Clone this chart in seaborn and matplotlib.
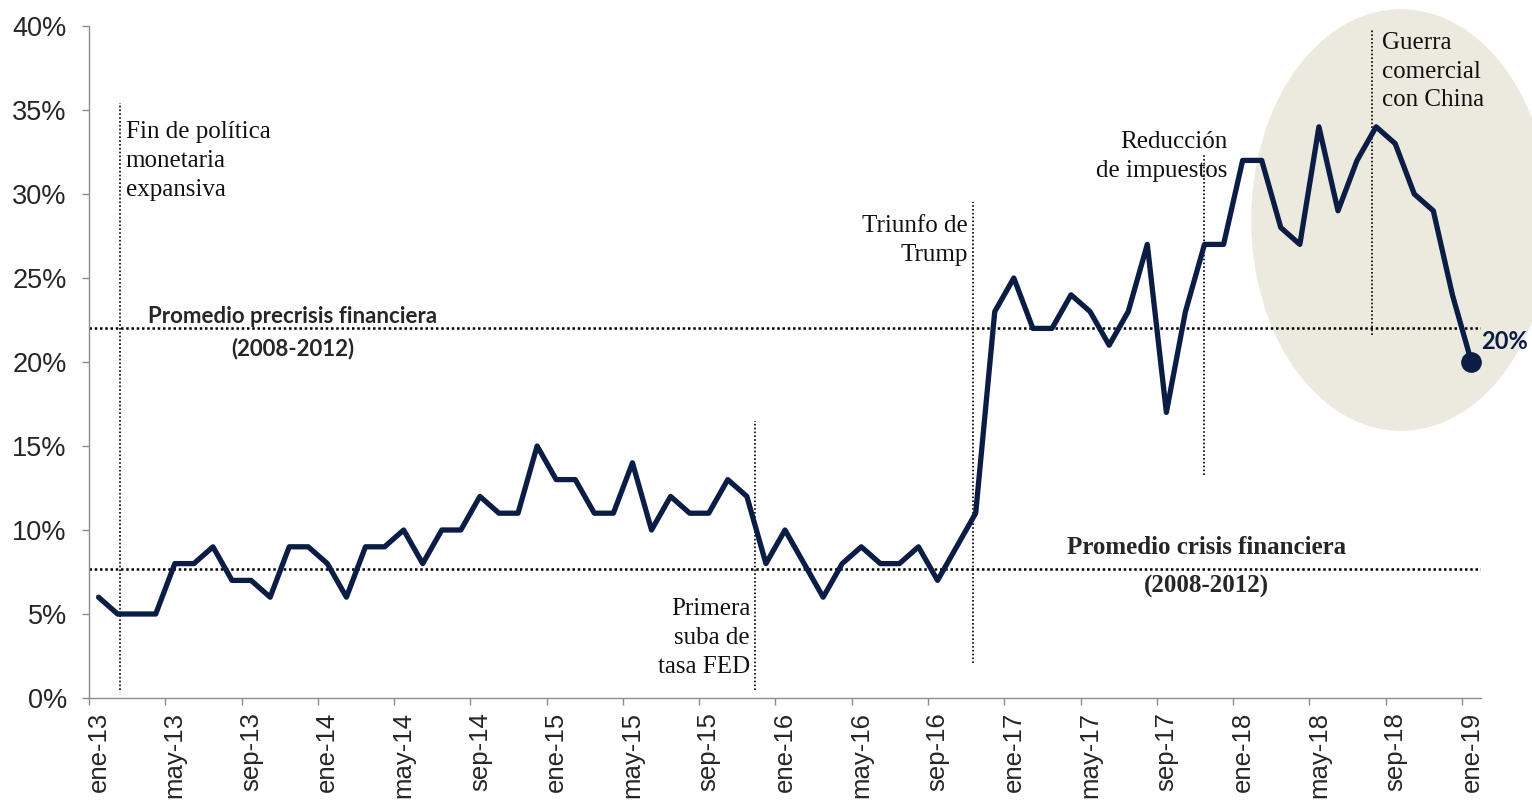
import matplotlib
matplotlib.use("Agg")
import matplotlib.pyplot as plt
from matplotlib.patches import Ellipse
import seaborn as sns
import pandas as pd

# Monthly series, ene-13 .. ene-19
abreviaturas = ["ene", "feb", "mar", "abr", "may", "jun",
                "jul", "ago", "sep", "oct", "nov", "dic"]
meses = [f"{abreviaturas[i % 12]}-{13 + i // 12}" for i in range(73)]
valores = [6, 5, 5, 5, 8, 8, 9, 7, 7, 6,
           9, 9, 8, 6, 9, 9, 10, 8, 10, 10,
           12, 11, 11, 15, 13, 13, 11, 11, 14, 10,
           12, 11, 11, 13, 12, 8, 10, 8, 6, 8,
           9, 8, 8, 9, 7, 9, 11, 23, 25, 22,
           22, 24, 23, 21, 23, 27, 17, 23, 27, 27,
           32, 32, 28, 27, 34, 29, 32, 34, 33, 30,
           29, 24, 20]
etiquetas_x = meses[::4]
valores_y = [0, 5, 10, 15, 20, 25, 30, 35, 40]

# Reference averages
promedio_precrisis = 22.0
promedio_crisis = 7.7

# Events: text, month position, vertical extent of the marker line
eventos_texto = ["Fin de política\nmonetaria\nexpansiva",
                 "Primera\nsuba de\ntasa FED",
                 "Triunfo de\nTrump",
                 "Reducción\nde impuestos",
                 "Guerra\ncomercial\ncon China"]
eventos_pos = [1.1, 34.45, 45.85, 57.97, 66.8]
eventos_desde = [0.5, 0.5, 2.1, 13.3, 21.6]
eventos_hasta = [35.4, 16.5, 29.5, 32.3, 39.8]

NAVY = "#0b1d45"
BEIGE = "#ece9df"
GRIS = "#8c8c8c"

sns.set_style("white")
plt.rcParams["font.family"] = ["Liberation Sans", "DejaVu Sans"]

fig = plt.figure(figsize=(15.32, 8), dpi=100)
ax = fig.add_axes([89 / 1532, 1 - 698 / 800, (1481 - 89) / 1532, (698 - 26) / 800])

df = pd.DataFrame({"pos": range(len(valores)), "valor": valores, "mes": meses})

# Highlight area behind the last months
ax.add_patch(Ellipse((68.3, 28.45), 15.7, 25.1, facecolor=BEIGE,
                     edgecolor="none", zorder=0, clip_on=False))

# Average lines
for nivel in (promedio_precrisis, promedio_crisis):
    ax.axhline(nivel, color="black", lw=1.8, ls=(0, (1, 1.1)), zorder=2)

# Event marker lines
for xp, y0, y1 in zip(eventos_pos, eventos_desde, eventos_hasta):
    ax.plot([xp, xp], [y0, y1], color="black", lw=1.2, ls=(0, (1, 1.3)),
            zorder=2, clip_on=False)

sns.lineplot(data=df, x="pos", y="valor", color=NAVY, lw=3.8, ax=ax,
             zorder=5)
sns.scatterplot(data=df.tail(1), x="pos", y="valor", color=NAVY, s=190,
                edgecolor=NAVY, ax=ax, zorder=6, clip_on=False)

ax.set_xlim(-0.5, 72.5)
ax.set_ylim(0, 40)
ax.set_xlabel("")
ax.set_ylabel("")

# Axes styling
for s in ("top", "right"):
    ax.spines[s].set_visible(False)
for s in ("left", "bottom"):
    ax.spines[s].set_color(GRIS)
    ax.spines[s].set_linewidth(1.0)

ax.set_yticks(valores_y)
ax.set_yticklabels([f"{v}%" for v in valores_y])
ax.set_xticks(list(range(0, 73, 4)))
ax.set_xticklabels(etiquetas_x, rotation=90)
ax.set_xticks([p - 0.5 for p in range(0, 73, 4)], minor=True)
ax.tick_params(axis="y", which="major", direction="out", length=5,
               color=GRIS, width=1, labelsize=19.5, pad=11, left=True)
ax.tick_params(axis="x", which="major", length=0, labelsize=18.5, pad=10)
ax.tick_params(axis="x", which="minor", direction="out", length=5,
               color=GRIS, width=1, bottom=True)

# Event annotations
serif = ["Liberation Serif", "DejaVu Serif"]
kw = dict(family=serif, fontsize=18, linespacing=1.4, color="#111111",
          va="top", zorder=7)
ax.text(1.42, 34.35, eventos_texto[0], ha="left", **kw)
ax.text(34.17, 5.95, eventos_texto[1], ha="right", **kw)
ax.text(45.6, 28.75, eventos_texto[2], ha="right", **kw)
ax.text(59.2, 33.75, eventos_texto[3], ha="right", **kw)
ax.text(67.3, 39.65, eventos_texto[4], ha="left", clip_on=False, **kw)

# Average labels
sans_bold = dict(family=["Lato", "DejaVu Sans"], fontweight="bold",
                 fontsize=16, ha="center", va="baseline", zorder=7)
serif_bold = dict(family=serif, fontweight="bold",
                  fontsize=18, ha="center", va="baseline", zorder=7)
ax.text(10.17, 22.3, "Promedio precrisis financiera", **sans_bold)
ax.text(10.17, 20.4, "(2008-2012)", **sans_bold)
ax.text(58.1, 8.57, "Promedio crisis financiera", **serif_bold)
ax.text(58.1, 6.25, "(2008-2012)", **serif_bold)

# Final value label
ax.text(72.5, 21.2, f"{valores[-1]}%", family=["Lato", "DejaVu Sans"],
        fontweight="bold", fontsize=17, color=NAVY, ha="left", va="center",
        clip_on=False, zorder=7)

fig.savefig("out.png", dpi=100)
